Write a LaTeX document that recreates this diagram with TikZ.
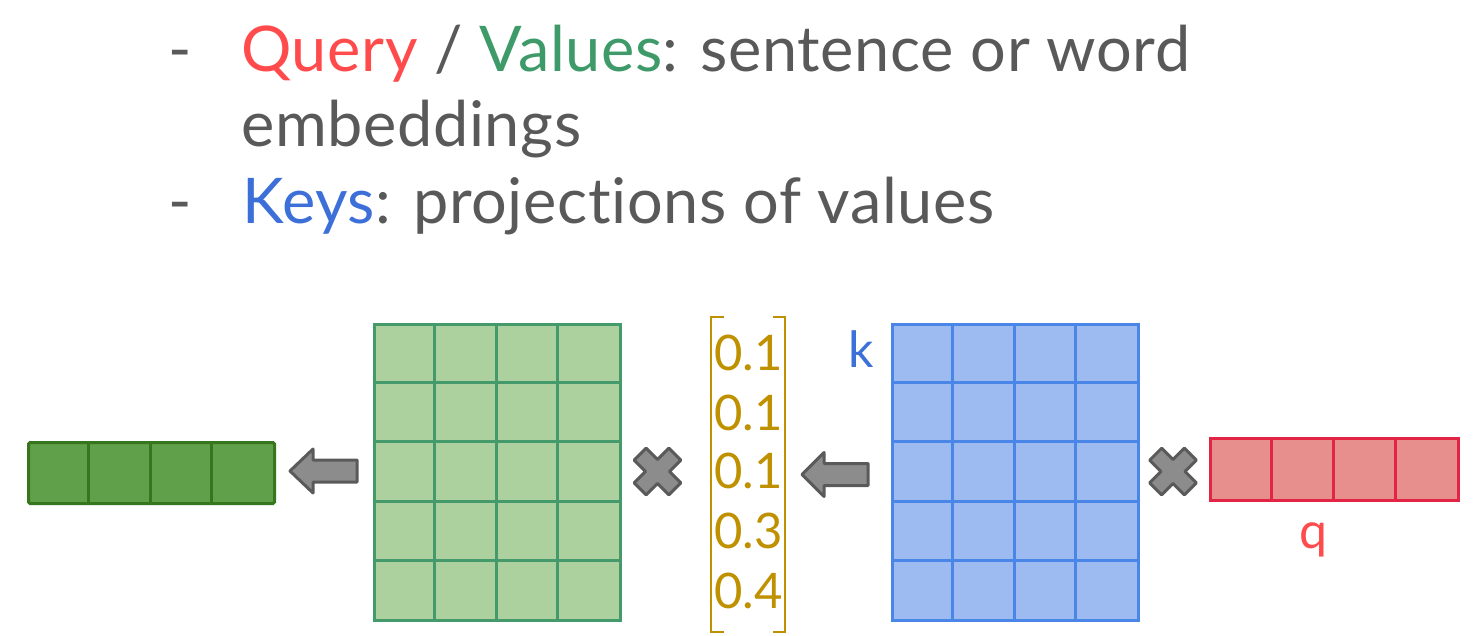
\documentclass[tikz,border=0pt]{standalone}
\usepackage{fontspec}
\setmainfont[Ligatures={NoCommon}]{Lato}
\definecolor{txtgray}{HTML}{595959}
\definecolor{qred}{HTML}{FF4B4B}
\definecolor{vgreen}{HTML}{3E9A68}
\definecolor{kblue}{HTML}{3C6FD8}
\definecolor{gold}{HTML}{BF9000}
\definecolor{vfill}{HTML}{ADD09F}
\definecolor{vstroke}{HTML}{449A6B}
\definecolor{ofill}{HTML}{60A04A}
\definecolor{ostroke}{HTML}{38761D}
\definecolor{kfill}{HTML}{9DBBF0}
\definecolor{kstroke}{HTML}{4A86E8}
\definecolor{qfill}{HTML}{E68F8C}
\definecolor{qstroke}{HTML}{E32545}
\definecolor{gfill}{HTML}{8C8C8C}
\definecolor{gstroke}{HTML}{5A5A5A}
\tikzset{
  bigtxt/.style={anchor=base west, inner sep=0pt, text=txtgray, font=\fontsize{63bp}{63bp}\selectfont},
  numtxt/.style={anchor=base west, inner sep=0pt, text=gold, font=\fontsize{49bp}{49bp}\selectfont},
  lbltxt/.style={inner sep=0pt, font=\fontsize{50bp}{50bp}\selectfont},
  blockarrow/.style={fill=gfill, draw=gstroke, line width=3bp, line join=round},
  crossmark/.style={fill=gfill, draw=gstroke, line width=3bp, line join=round},
  cellline/.style={line width=3bp},
}
\begin{document}
\begin{tikzpicture}[x=1bp, y=-1bp]
\useasboundingbox (0,0) rectangle (1480,636);
% text
\node[bigtxt] (d1) at (168,72) {-};
\node[bigtxt] (l1) at (241,72) {\addfontfeature{LetterSpace=1.0}\textcolor{qred}{Query} / \textcolor{vgreen}{Values}: sentence or word};
\node[bigtxt] (l2) at (241,147) {\addfontfeature{LetterSpace=1.0}embeddings};
\node[bigtxt] (d2) at (168,223) {-};
\node[bigtxt] (l3) at (242,223) {\addfontfeature{LetterSpace=1.0}\textcolor{kblue}{Keys}: projections of values};

% output vector (dark green)
\node[draw=ostroke, fill=ofill, line width=3bp, rounded corners=1.5bp, minimum width=246bp, minimum height=61bp, inner sep=0pt, anchor=north west] (out) at (27,441) {};
\foreach \x in {88.5,150,211.5} \draw[ostroke, cellline] (\x,441) -- (\x,502);

% values matrix (light green)
\node[draw=vstroke, fill=vfill, line width=3bp, minimum width=246bp, minimum height=296bp, inner sep=0pt, anchor=north west] (V) at (373,323) {};
\foreach \x in {434.5,496,557.5} \draw[vstroke, cellline] (\x,323) -- (\x,619);
\foreach \y in {382,441.5,501,560} \draw[vstroke, cellline] (373,\y) -- (619,\y);

% keys matrix (blue)
\node[draw=kstroke, fill=kfill, line width=3bp, minimum width=246bp, minimum height=296bp, inner sep=0pt, anchor=north west] (K) at (891,323) {};
\foreach \x in {952.5,1014,1075.5} \draw[kstroke, cellline] (\x,323) -- (\x,619);
\foreach \y in {382,441.5,501,560} \draw[kstroke, cellline] (891,\y) -- (1137,\y);

% query vector (red)
\node[draw=qstroke, fill=qfill, line width=3bp, minimum width=248bp, minimum height=62bp, inner sep=0pt, anchor=north west] (Q) at (1209,437) {};
\foreach \x in {1271,1333,1395} \draw[qstroke, cellline] (\x,437) -- (\x,499);

% labels
\node[lbltxt, text=kblue, anchor=base east] (klbl) at (874,367) {k};
\node[lbltxt, text=qred, anchor=base] (qlbl) at (1313,548) {q};

% weights vector with brackets
\draw[gold, line width=2.5bp] (724,317) -- (711,317) -- (711,632) -- (724,632);
\draw[gold, line width=2.5bp] (773,317) -- (785,317) -- (785,632) -- (773,632);
\node[numtxt] (w1) at (714,370) {0.1};
\node[numtxt] (w2) at (714,430) {0.1};
\node[numtxt] (w3) at (714,488) {0.1};
\node[numtxt] (w4) at (714,548) {0.3};
\node[numtxt] (w5) at (714,608) {0.4};

% block arrows
\draw[blockarrow] (290,471) -- (313,449) -- (313,460) -- (357,460) -- (357,482) -- (313,482) -- (313,493) -- cycle;
\draw[blockarrow] (802,474.5) -- (824,452.5) -- (824,463.5) -- (868,463.5) -- (868,485.5) -- (824,485.5) -- (824,496.5) -- cycle;

% cross marks
\foreach \cx/\cy in {657.5/471.5, 1173/471.5}{
  \begin{scope}[shift={(\cx,\cy)}, rotate=45]
    \draw[crossmark] (-8.5,-24.5) -- (8.5,-24.5) -- (8.5,-8.5) -- (24.5,-8.5) -- (24.5,8.5) -- (8.5,8.5) -- (8.5,24.5) -- (-8.5,24.5) -- (-8.5,8.5) -- (-24.5,8.5) -- (-24.5,-8.5) -- (-8.5,-8.5) -- cycle;
  \end{scope}
}
\end{tikzpicture}
\end{document}
